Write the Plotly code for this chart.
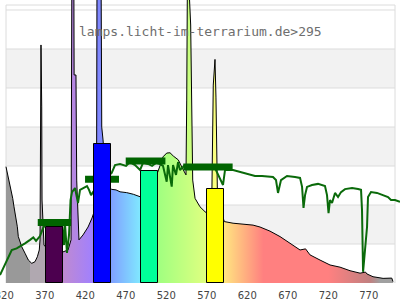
import plotly.graph_objects as go

# ---- lamp spectrum (nm, relative intensity; top gridline = 100) ----
spec_nm = [322.2, 325.1, 327.2, 330.5, 332.1, 333.3, 334.6, 336.2, 337.4, 341.6, 345.7, 349.8,
           354.0, 358.0, 360.9, 363.3, 364.2, 364.8, 365.4, 366.3, 366.7, 369.1, 376.5, 383.9,
           392.6, 398.8, 402.5, 403.6, 405.9, 406.3, 408.6, 409.5, 411.1, 412.3, 417.3, 423.5,
           428.4, 430.9, 432.1, 434.1, 434.6, 439.5, 440.4, 442.0, 445.7, 450.6, 452.7, 458.0,
           463.0, 471.2, 479.4, 487.7, 500.0, 509.0, 513.6, 516.0, 520.6, 524.7, 528.8, 534.9,
           541.1, 544.4, 545.3, 546.3, 550.2, 551.5, 552.7, 555.6, 561.7, 567.9, 570.7, 576.4,
           578.1, 580.2, 581.4, 583.3, 591.7, 602.5, 614.8, 627.2, 635.8, 644.1, 648.1, 660.5,
           672.8, 685.2, 692.0, 693.8, 697.5, 709.9, 722.2, 734.6, 746.9, 759.3, 766.0, 767.9,
           775.3, 787.7, 798.4, 800.0]
spec_val = [42.6, 38.9, 35.3, 31.0, 27.9, 26.1, 23.1, 20.6, 17.0, 13.3, 10.9, 8.4,
            7.2, 7.8, 9.6, 12.1, 15.8, 54.9, 87.2, 64.5, 30.4, 13.9, 11.4, 11.4,
            11.4, 12.1, 15.8, 120, 120, 76.2, 76.2, 37.7, 19.4, 15.8, 17.6, 20.5,
            23.8, 26.0, 28.6, 48.7, 120, 120, 57.1, 52.4, 37.7, 34.8, 34.3, 34.1,
            33.4, 33.1, 32.5, 31.6, 35.9, 40.2, 44.0, 46.2, 47.6, 47.7, 46.5, 45.1,
            41.4, 39.6, 67.0, 120, 94.5, 53.5, 37.7, 31.0, 27.9, 26.1, 25.5, 34.1,
            72.5, 81.9, 68.1, 30.4, 22.5, 21.9, 21.6, 21.2, 20.5, 19.4, 19.0, 17.0,
            14.5, 12.1, 12.5, 11.7, 10.3, 8.4, 6.6, 5.8, 4.5, 3.6, 4.0, 3.3,
            2.3, 1.7, 1.8, 0.5]

# ---- daylight reference curve ----
sun_nm = [314.8, 321.0, 325.1, 329.3, 335.4, 339.5, 345.7, 351.9, 355.9, 359.3, 364.2, 367.9,
          372.8, 382.7, 391.4, 393.8, 395.1, 397.5, 400.0, 401.9, 403.7, 407.4, 411.1, 413.6,
          418.5, 422.2, 424.7, 427.2, 429.6, 440.0, 452.7, 456.8, 463.0, 470.4, 475.3, 481.5,
          487.7, 491.4, 497.5, 502.5, 507.4, 512.3, 516.0, 520.6, 522.2, 526.8, 528.4, 532.1,
          534.6, 537.0, 542.0, 549.4, 556.8, 564.2, 571.6, 580.2, 590.1, 592.6, 602.5, 611.1,
          619.8, 629.6, 638.3, 648.1, 651.8, 655.5, 658.0, 661.7, 669.1, 679.0, 685.2, 687.7,
          689.5, 691.4, 693.8, 700.0, 707.4, 716.0, 718.5, 720.4, 722.2, 724.7, 728.4, 732.1,
          735.8, 740.7, 749.4, 756.8, 760.5, 761.7, 763.0, 765.4, 767.9, 769.1, 772.8, 780.2,
          787.6, 793.8, 797.5, 802.4, 808.6]
sun_val = [2.9, 6.6, 9.6, 12.1, 12.7, 13.3, 14.5, 15.8, 16.7, 15.4, 17.2, 20.1,
           22.3, 23.1, 22.3, 13.9, 21.2, 11.0, 17.6, 30.4, 33.3, 34.8, 29.3, 34.1,
           34.8, 35.5, 34.1, 32.2, 33.3, 37.0, 40.3, 43.2, 43.6, 42.9, 44.3, 43.2,
           41.4, 44.0, 43.6, 42.9, 44.0, 43.6, 42.9, 37.1, 43.2, 35.3, 43.2, 39.6,
           44.3, 41.4, 42.9, 42.5, 42.9, 42.1, 42.5, 42.1, 35.9, 41.4, 41.4, 40.7,
           39.9, 39.2, 39.2, 38.8, 38.8, 37.7, 33.0, 37.7, 39.2, 38.8, 38.5, 35.2,
           27.5, 32.2, 35.2, 35.9, 36.3, 35.5, 32.2, 25.6, 30.4, 29.3, 33.0, 31.5,
           33.3, 34.4, 34.8, 34.4, 34.1, 26.7, 4.1, 12.1, 20.5, 31.5, 33.3, 33.0,
           32.2, 31.5, 30.4, 30.4, 29.7]

# ---- band bars (lamp) ----
bar_center = [381.9, 441.1, 499.2, 581.2]
bar_value = [20.6, 50.8, 40.9, 34.3]
bar_color = ["#4c004f", "#0000ff", "#00ff99", "#ffff00"]

# ---- band markers (daylight reference) ----
ref_start = [361.4, 419.8, 470.0, 541.0]
ref_end = [402.5, 461.7, 519.0, 602.0]
ref_value = [22.2, 38.0, 44.7, 42.5]

tick_vals = [320, 370, 420, 470, 520, 570, 620, 670, 720, 770]

# wavelength colour stops for the gradient fill
wl_stops = [(314.8, "#999999"), (351.5, "#999999"), (352.0, "#b0a8b0"), (372.0, "#b0a8b0"),
            (392.0, "#c08ad0"), (430.0, "#a080ff"), (432.0, "#8080ff"), (452.0, "#80a0ff"),
            (488.0, "#80e8ff"), (500.0, "#80ffc0"), (510.0, "#a0ff80"), (570.0, "#e0ff80"),
            (582.0, "#ffff80"), (594.0, "#ffe080"), (640.0, "#ff8080"), (720.0, "#ff8080"),
            (772.0, "#c08080"), (784.0, "#a0a0a0"), (808.6, "#a0a0a0")]

X0, X1 = 314.8, 808.6
Y1 = 103.66
cs = [[(w - X0) / (X1 - X0), c] for w, c in wl_stops]

fig = go.Figure()

fig.add_trace(go.Scatter(
    x=spec_nm, y=spec_val, mode="lines", fill="tozeroy",
    fillgradient=dict(type="horizontal", colorscale=cs, start=X0, stop=X1),
    line=dict(color="black", width=1), hoverinfo="skip", showlegend=False))

fig.add_trace(go.Scatter(
    x=sun_nm, y=sun_val, mode="lines",
    line=dict(color="#0a6a0a", width=2), hoverinfo="skip", showlegend=False))

mx, my = [], []
for s, e, v in zip(ref_start, ref_end, ref_value):
    mx += [s, e, None]
    my += [v, v, None]
fig.add_trace(go.Scatter(x=mx, y=my, mode="lines",
                         line=dict(color="#006400", width=7),
                         hoverinfo="skip", showlegend=False))

# bars on an overlaid pair of axes so they sit above the filled spectrum
fig.add_trace(go.Bar(x=bar_center, y=bar_value, width=20.5, xaxis="x2", yaxis="y2",
                     marker=dict(color=bar_color, line=dict(color="black", width=1)),
                     hoverinfo="skip", showlegend=False))

# background bands, gridlines and frame
shapes = []
px0, px1 = 6 / 400, 395 / 400
step = 100 / 7
for k in (1, 3, 5):
    shapes.append(dict(type="rect", xref="paper", yref="y", x0=px0, x1=px1,
                       y0=k * step, y1=(k + 1) * step, fillcolor="#f2f2f2",
                       line=dict(width=0), layer="below"))
for k in range(1, 8):
    shapes.append(dict(type="line", xref="paper", yref="y", x0=px0, x1=px1,
                       y0=k * step, y1=k * step, line=dict(color="#dcdcdc", width=1),
                       layer="below"))
shapes.append(dict(type="rect", xref="paper", yref="y", x0=px0, x1=px1,
                   y0=0, y1=101.83, line=dict(color="#dcdcdc", width=1), layer="below"))

fig.update_layout(
    width=400, height=300,
    margin=dict(l=0, r=0, t=0, b=17, autoexpand=False),
    paper_bgcolor="white", plot_bgcolor="white",
    shapes=shapes,
    bargap=0,
    xaxis=dict(range=[X0, X1], tickvals=tick_vals, showgrid=False, zeroline=False,
               showline=False, ticks="outside", ticklen=3, tickcolor="rgba(0,0,0,0)",
               ticklabeloverflow="allow", automargin=False,
               tickfont=dict(family="DejaVu Sans", size=10, color="#444")),
    yaxis=dict(range=[0, Y1], visible=False, showgrid=False, zeroline=False, automargin=False),
    xaxis2=dict(range=[X0, X1], overlaying="x", visible=False, showgrid=False, zeroline=False),
    yaxis2=dict(range=[0, Y1], overlaying="y", visible=False, showgrid=False, zeroline=False),
    annotations=[dict(text="lamps.licht-im-terrarium.de>295", xref="paper", yref="paper",
                      x=0.5025, y=1 - 31 / 283, xanchor="center", yanchor="middle",
                      showarrow=False,
                      font=dict(family="DejaVu Sans Mono", size=13, color="#6e6e6e"))],
)

fig.write_html("out.html")
